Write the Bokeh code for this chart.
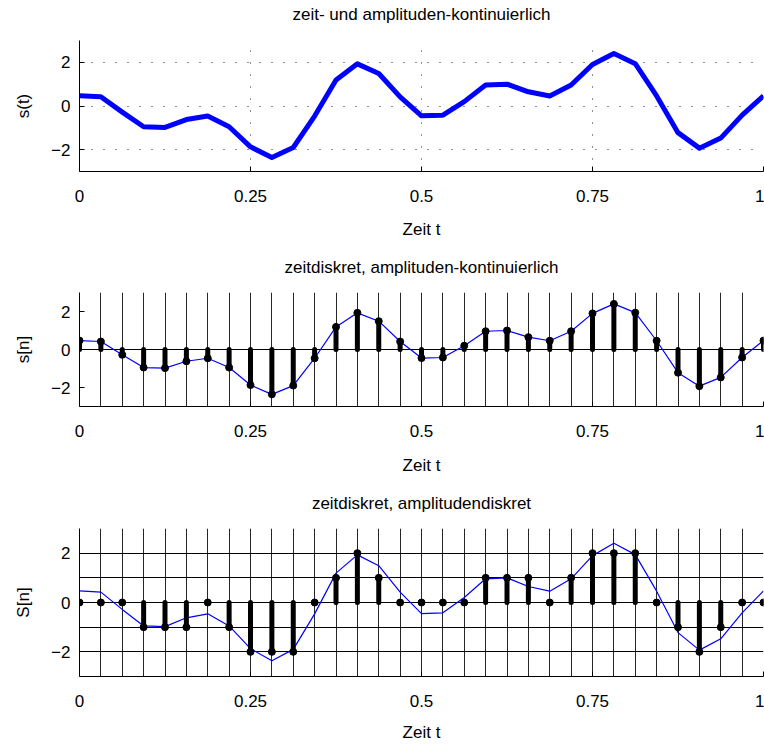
from bokeh.plotting import figure
from bokeh.layouts import column
from bokeh.models import Range1d, FixedTicker, ColumnDataSource, LinearAxis
from bokeh.embed import file_html
from bokeh.resources import INLINE

# ---- data ----
n_samples = list(range(33))
t = [k / 32 for k in n_samples]
s = [0.47, 0.42, -0.28, -0.95, -0.98, -0.62, -0.46, -0.95, -1.87, -2.36, -1.90,
     -0.46, 1.19, 1.93, 1.49, 0.42, -0.45, -0.42, 0.20, 0.96, 1.00, 0.65, 0.46,
     0.96, 1.90, 2.40, 1.94, 0.46, -1.22, -1.93, -1.47, -0.42, 0.47]
q = [0, 0, 0, -1, -1, -1, 0, -1, -2, -2, -2, 0, 1, 2, 1, 0, 0, 0, 0, 1, 1, 1, 0,
     1, 2, 2, 2, 0, -1, -2, -1, 0, 0]
x_ticks = [0, 0.25, 0.5, 0.75, 1]
x_tick_labels = ["0", "0.25", "0.5", "0.75", "1"]
y_ticks = [-2, 0, 2]
y_levels = [-2, -1, 0, 1, 2]
titles = ["zeit- und amplituden-kontinuierlich",
          "zeitdiskret, amplituden-kontinuierlich",
          "zeitdiskret, amplitudendiskret"]
ylabels = ["s(t)", "s[n]", "S[n]"]
xlabel = "Zeit t"

FONT = "Liberation Sans"
FS = "17px"
W = 764


def make_fig(height, top, bottom, title, ylabel, title_standoff, xlab_standoff):
    p = figure(width=W, height=height, output_backend="svg", toolbar_location=None,
               x_range=Range1d(0, 1), y_range=Range1d(-3, 3),
               min_border_left=79, min_border_right=1,
               min_border_top=top, min_border_bottom=bottom)
    p.outline_line_color = None
    p.background_fill_color = "white"
    p.border_fill_color = "white"
    for ax in (p.xaxis[0], p.yaxis[0]):
        ax.axis_line_color = "black"
        ax.major_tick_line_color = "black"
        ax.major_tick_in = 5
        ax.major_tick_out = 0
        ax.minor_tick_line_color = None
        ax.major_label_text_font = FONT
        ax.major_label_text_font_size = FS
        ax.major_label_text_color = "black"
        ax.axis_label_text_font = FONT
        ax.axis_label_text_font_size = FS
        ax.axis_label_text_font_style = "normal"
        ax.axis_label_text_color = "black"
    p.xaxis.ticker = FixedTicker(ticks=x_ticks)
    p.xaxis.major_label_overrides = {v: l for v, l in zip(x_ticks, x_tick_labels)}
    p.xaxis.major_label_standoff = 18
    p.xaxis.axis_label = xlabel
    p.xaxis.axis_label_standoff = xlab_standoff
    p.yaxis.ticker = FixedTicker(ticks=y_ticks)
    p.yaxis.major_label_standoff = 9
    p.yaxis.axis_label = ylabel
    p.yaxis.axis_label_standoff = 15
    # title drawn as the label of an otherwise invisible axis above the frame
    tax = LinearAxis(ticker=FixedTicker(ticks=[]), axis_label=title,
                     axis_line_color=None, major_tick_line_color=None,
                     minor_tick_line_color=None, major_tick_out=0, major_tick_in=0,
                     major_label_standoff=0, major_label_text_font_size="0px",
                     axis_label_standoff=title_standoff,
                     axis_label_text_font=FONT, axis_label_text_font_size=FS,
                     axis_label_text_font_style="normal", axis_label_text_color="black")
    p.add_layout(tax, "above")
    return p


# ---- panel 1 ----
p1 = make_fig(250, 40, 79, titles[0], ylabels[0], 17, 15)
p1.xgrid.ticker = FixedTicker(ticks=x_ticks)
p1.ygrid.ticker = FixedTicker(ticks=y_ticks)
for g in (p1.xgrid[0], p1.ygrid[0]):
    g.grid_line_color = "#222222"
    g.grid_line_dash = "1 11"
    g.grid_line_width = 1
p1.line(t, s, line_color="#0000ff", line_width=5, line_join="round")

# ---- panel 2 ----
p2 = make_fig(240, 42, 84, titles[1], ylabels[1], 16, 16)
p2.xgrid.ticker = FixedTicker(ticks=t)
p2.xgrid.grid_line_color = "black"
p2.xgrid.grid_line_alpha = 0.85
p2.ygrid.ticker = FixedTicker(ticks=[0])
p2.ygrid.grid_line_color = "black"
src2 = ColumnDataSource(dict(t=t, s=s, z=[0] * len(t)))
p2.line("t", "s", source=src2, line_color="#0000ff", line_width=1.2)
p2.segment(x0="t", y0="z", x1="t", y1="s", source=src2, line_color="black",
           line_width=5, line_cap="round")
p2.scatter("t", "s", source=src2, size=7, color="black")

# ---- panel 3 ----
p3 = make_fig(254, 36, 67, titles[2], ylabels[2], 16, 13)
p3.xgrid.ticker = FixedTicker(ticks=t)
p3.xgrid.grid_line_color = "black"
p3.xgrid.grid_line_alpha = 0.85
p3.ygrid.ticker = FixedTicker(ticks=y_levels)
p3.ygrid.grid_line_color = "black"
src3 = ColumnDataSource(dict(t=t, s=s, q=q, z=[0] * len(t)))
p3.line("t", "s", source=src3, line_color="#0000ff", line_width=1.2)
p3.segment(x0="t", y0="z", x1="t", y1="q", source=src3, line_color="black",
           line_width=5, line_cap="round")
p3.scatter("t", "q", source=src3, size=7, color="black")

layout = column(p1, p2, p3, spacing=0)
open("out.html", "w").write(file_html(layout, INLINE))
